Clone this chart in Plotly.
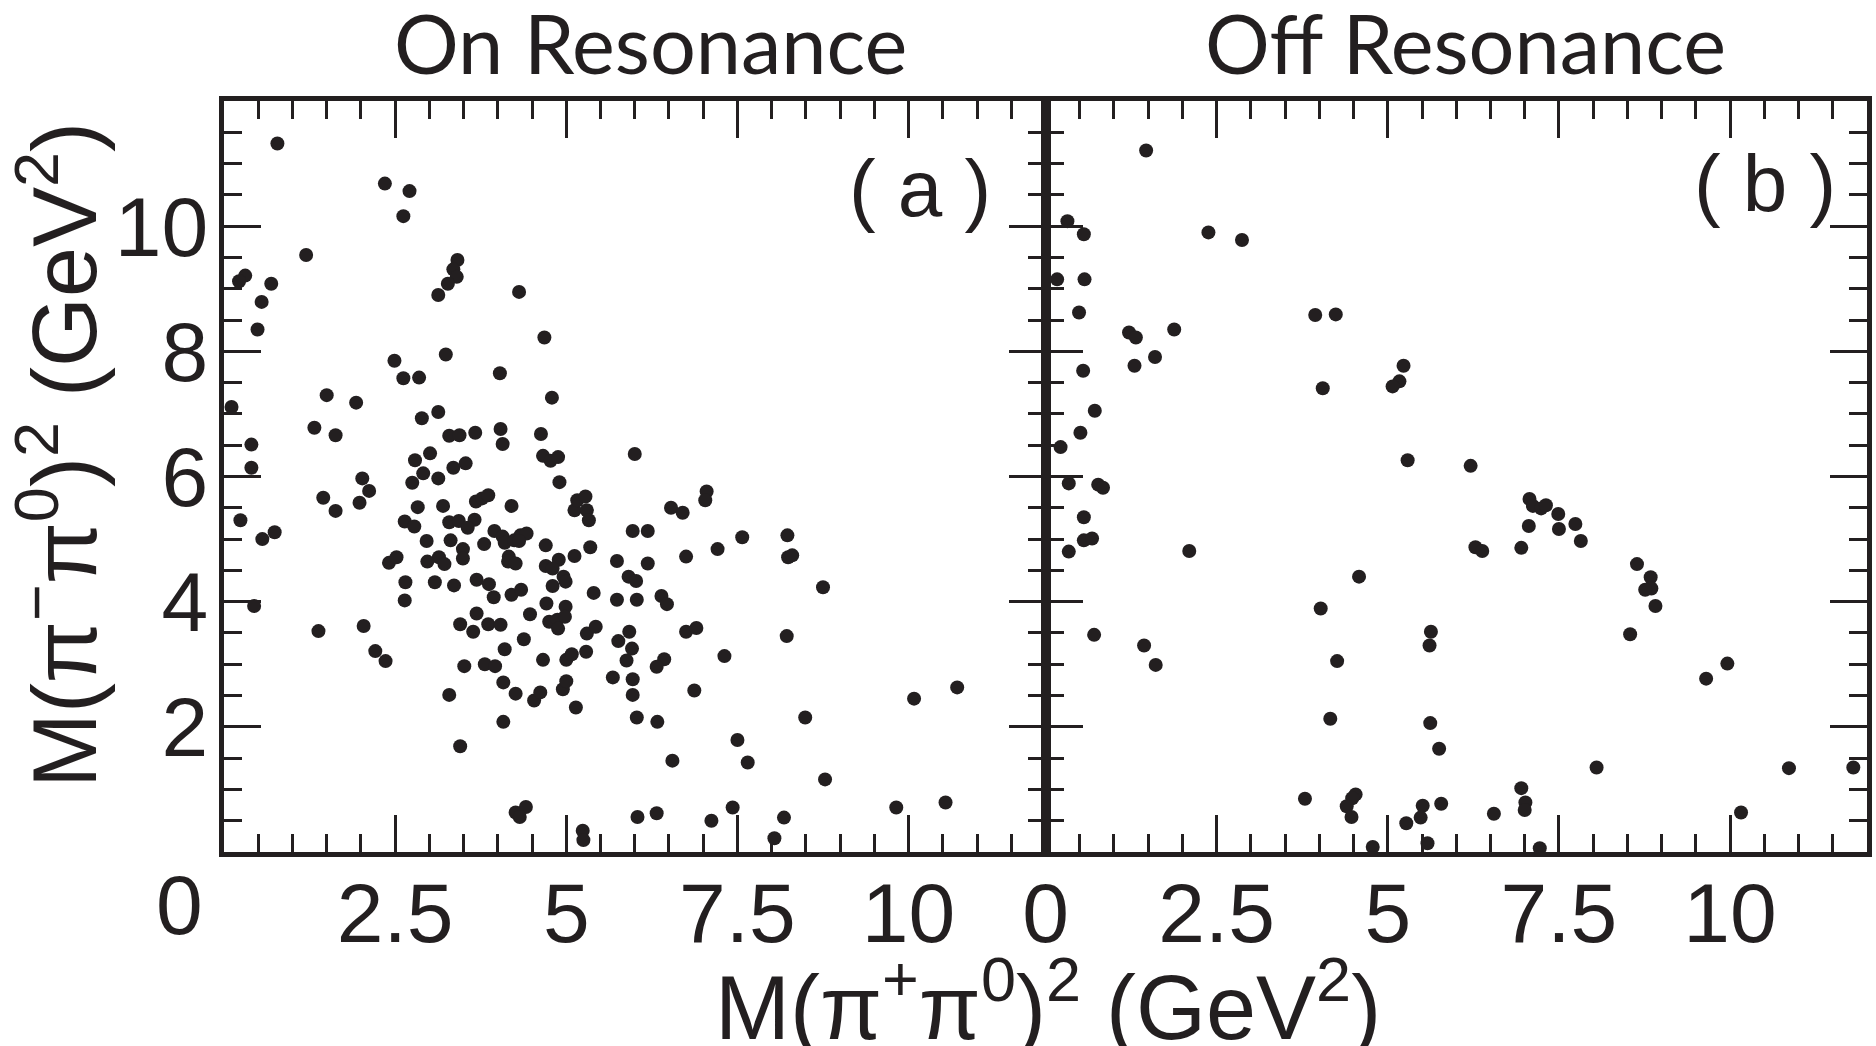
import plotly.graph_objects as go

INK = "#231f20"

# On-resonance events (panel a): (M(pi+pi0)^2, M(pi-pi0)^2)
on_points = [
    (0.78, 11.32), (2.35, 10.68), (2.71, 10.56), (2.62, 10.16), (1.20, 9.54), (0.31, 9.21), (0.22, 9.12),
    (0.69, 9.08), (0.55, 8.79), (0.49, 8.35), (3.41, 9.46), (3.35, 9.31), (3.40, 9.19), (3.27, 9.08),
    (3.13, 8.90), (4.31, 8.95), (4.68, 8.22), (3.24, 7.95), (2.49, 7.85), (2.62, 7.57), (2.85, 7.58),
    (4.03, 7.65), (4.79, 7.26), (0.11, 7.11), (1.50, 7.30), (1.93, 7.18), (1.32, 6.78), (1.63, 6.66),
    (2.89, 6.93), (3.13, 7.03), (3.29, 6.65), (3.44, 6.66), (3.67, 6.70), (4.04, 6.76), (4.07, 6.52),
    (4.63, 6.68), (4.66, 6.33), (4.77, 6.25), (4.88, 6.31), (0.40, 6.51), (0.40, 6.14), (3.01, 6.37),
    (2.79, 6.26), (3.35, 6.14), (3.53, 6.21), (2.91, 6.05), (6.00, 6.36),
    (2.02, 5.97), (2.12, 5.77), (1.98, 5.58), (1.45, 5.66), (1.63, 5.45), (0.24, 5.30), (0.56, 5.00),
    (0.74, 5.11), (3.13, 5.97), (2.75, 5.90), (2.83, 5.51), (3.20, 5.53), (2.64, 5.28), (2.78, 5.20),
    (2.96, 4.97), (3.29, 5.27), (3.43, 5.29), (3.66, 5.31), (3.56, 5.18), (3.31, 4.98), (3.49, 4.84),
    (3.49, 4.69), (3.14, 4.71), (3.22, 4.60), (2.97, 4.64), (2.41, 4.62), (2.52, 4.71), (2.65, 4.31),
    (2.64, 4.02), (3.08, 4.31), (3.36, 4.26), (3.68, 5.60), (3.77, 5.65), (3.86, 5.70), (4.20, 5.53),
    (3.80, 4.92), (3.95, 5.13), (4.07, 5.04), (4.10, 4.94), (4.24, 4.98), (4.33, 5.06), (4.42, 5.09),
    (4.31, 4.97), (4.16, 4.72), (4.15, 4.64), (4.26, 4.61), (4.70, 4.90), (4.89, 4.67), (4.70, 4.57),
    (4.80, 4.53), (5.12, 5.46), (5.16, 5.62), (5.28, 5.68), (5.30, 5.46), (5.33, 5.30), (4.90, 5.91),
    (5.35, 4.87), (5.12, 4.73), (4.96, 4.40), (4.99, 4.32), (4.80, 4.25), (3.69, 4.35), (3.87, 4.28),
    (3.94, 4.07), (4.20, 4.11), (4.34, 4.19), (4.71, 3.97), (4.99, 3.92), (5.40, 4.14), (5.74, 4.65),
    (5.74, 4.03), (3.69, 3.81), (3.45, 3.64), (3.64, 3.52), (3.86, 3.64), (4.04, 3.63), (4.47, 3.80),
    (4.75, 3.68), (4.87, 3.71), (4.98, 3.76), (4.88, 3.57), (5.30, 3.49), (5.43, 3.60), (4.38, 3.40),
    (4.10, 3.24), (5.29, 3.20), (5.76, 3.37), (5.68, 2.79), (4.66, 3.07), (5.00, 3.07), (5.08, 3.16),
    (3.81, 3.00), (3.96, 2.97), (3.51, 2.97), (4.08, 2.71), (4.26, 2.53), (4.53, 2.42), (4.62, 2.55),
    (4.95, 2.60), (5.00, 2.73), (5.14, 2.31), (3.29, 2.51), (4.08, 2.08), (3.45, 1.69), (1.38, 3.53),
    (0.44, 3.93), (2.04, 3.61), (2.21, 3.21), (2.36, 3.05), (4.26, 0.63), (4.41, 0.72), (4.32, 0.56),
    (5.24, 0.34), (5.25, 0.19),
    (7.05, 5.76), (7.03, 5.62), (6.53, 5.50), (6.70, 5.42), (5.97, 5.13), (6.19, 5.13), (7.57, 5.03),
    (8.23, 5.06), (7.21, 4.84), (6.75, 4.72), (8.24, 4.71), (8.30, 4.74), (6.19, 4.61), (5.91, 4.40),
    (6.02, 4.33), (8.75, 4.23), (6.03, 4.03), (6.39, 4.09), (6.47, 3.96), (5.92, 3.52), (5.96, 3.25),
    (5.88, 3.06), (6.75, 3.52), (6.90, 3.58), (8.22, 3.45), (7.31, 3.13), (6.43, 3.08), (6.32, 2.96),
    (5.97, 2.76), (5.97, 2.51), (6.87, 2.58), (10.08, 2.45), (10.71, 2.63), (6.03, 2.15), (6.33, 2.08),
    (8.49, 2.15), (7.50, 1.79), (7.65, 1.43), (6.55, 1.46), (8.78, 1.16), (6.04, 0.56), (6.32, 0.62),
    (7.12, 0.50), (7.43, 0.71), (8.18, 0.55), (8.04, 0.22), (9.82, 0.71), (10.54, 0.79),
]

# Off-resonance events (panel b)
off_points = [
    (1.47, 11.21), (0.32, 10.08), (0.56, 9.87), (2.38, 9.90), (2.87, 9.78), (0.17, 9.15), (0.57, 9.15),
    (0.49, 8.62), (3.94, 8.58), (4.24, 8.59), (1.22, 8.30), (1.32, 8.22), (1.88, 8.35), (1.60, 7.91),
    (1.30, 7.77), (0.55, 7.69), (4.05, 7.41), (5.23, 7.77), (5.17, 7.52), (5.07, 7.44), (0.72, 7.05),
    (0.51, 6.70), (0.22, 6.47), (5.29, 6.26), (6.21, 6.17), (0.34, 5.89), (0.77, 5.87), (0.84, 5.82),
    (0.56, 5.35), (0.56, 4.98), (0.68, 5.01), (0.34, 4.80), (2.10, 4.81), (4.58, 4.40), (4.02, 3.89),
    (0.71, 3.47), (5.63, 3.52), (5.61, 3.30), (1.44, 3.30), (1.61, 2.99), (4.26, 3.05), (4.16, 2.13),
    (5.62, 2.06), (5.75, 1.65), (3.79, 0.85), (4.53, 0.92), (4.48, 0.86), (4.40, 0.73), (4.47, 0.56),
    (4.78, 0.08), (5.27, 0.46), (5.51, 0.74), (5.48, 0.55), (5.58, 0.14), (5.78, 0.77), (7.07, 5.64),
    (7.12, 5.53), (7.24, 5.49), (7.31, 5.54), (7.49, 5.40), (7.74, 5.24), (7.06, 5.21), (7.50, 5.16),
    (7.82, 4.97), (6.28, 4.87), (6.38, 4.81), (6.95, 4.86), (8.64, 4.60), (8.84, 4.39), (8.85, 4.21),
    (8.76, 4.19), (8.91, 3.93), (8.54, 3.48), (9.96, 3.01), (9.65, 2.77), (8.05, 1.35), (10.86, 1.34),
    (11.80, 1.35), (6.95, 1.02), (7.01, 0.79), (7.00, 0.67), (6.55, 0.61), (10.16, 0.63), (7.22, 0.06),
]

on_x = [p[0] for p in on_points]
on_y = [p[1] for p in on_points]
off_x = [p[0] for p in off_points]
off_y = [p[1] for p in off_points]

x_ticks_a = [2.5, 5, 7.5, 10]
x_ticks_b = [0, 2.5, 5, 7.5, 10]
x_ticktext_a = ["2.5", "5", "7.5", "10"]
x_ticktext_b = ["0", "2.5", "5", "7.5", "10"]
y_ticks = [2, 4, 6, 8, 10]
y_ticktext = ["2", "4", "6", "8", "10"]
panel_titles = ["On Resonance", "Off Resonance"]
panel_tags = ["( a )", "( b )"]

TICKFONT = dict(family="Liberation Sans, Arial, sans-serif", size=84, color=INK)

fig = go.Figure()
fig.add_trace(go.Scatter(x=on_x, y=on_y, mode="markers", xaxis="x", yaxis="y",
                         marker=dict(size=14, color=INK), cliponaxis=False, showlegend=False))
fig.add_trace(go.Scatter(x=off_x, y=off_y, mode="markers", xaxis="x2", yaxis="y2",
                         marker=dict(size=14, color=INK), cliponaxis=False, showlegend=False))

common_axis = dict(
    range=[0, 12], showgrid=False, zeroline=False, showline=True, linewidth=5, linecolor=INK,
    mirror="allticks", ticks="inside", ticklen=37, tickwidth=3, tickcolor=INK,
    minor=dict(tickmode="linear", tick0=0, dtick=0.5, ticks="inside", ticklen=18,
               tickwidth=3, tickcolor=INK),
    tickfont=TICKFONT,
)

fig.update_layout(
    width=1876, height=1046,
    margin=dict(l=224, r=4, t=101, b=194),
    paper_bgcolor="white", plot_bgcolor="white",
    xaxis=dict(common_axis, domain=[0, 0.5], anchor="y", tickmode="array",
               tickvals=x_ticks_a, ticktext=x_ticktext_a, ticklabelstandoff=-16),
    xaxis2=dict(common_axis, domain=[0.5, 1.0], anchor="y2", tickmode="array",
                tickvals=x_ticks_b, ticktext=x_ticktext_b, ticklabelstandoff=-16),
    yaxis=dict(common_axis, domain=[0, 1], anchor="x", tickmode="array",
               tickvals=y_ticks, ticktext=y_ticktext, ticklabelstandoff=-6),
    yaxis2=dict(common_axis, domain=[0, 1], anchor="x2", tickmode="array",
                tickvals=y_ticks, ticktext=y_ticktext, showticklabels=False),
)

ann = []
TITLEFONT = dict(family="Lato, Open Sans, sans-serif", size=81, color=INK)
ann.append(dict(text=panel_titles[0], x=0.2597, y=1.078, xref="paper", yref="paper",
                xanchor="center", yanchor="middle", showarrow=False, font=TITLEFONT))
ann.append(dict(text=panel_titles[1], x=0.7555, y=1.078, xref="paper", yref="paper",
                xanchor="center", yanchor="middle", showarrow=False, font=TITLEFONT))
TAGFONT = dict(family="Liberation Sans, Arial, sans-serif", size=80, color=INK)
ann.append(dict(text=panel_tags[0], x=0.4235, y=0.884, xref="paper", yref="paper",
                xanchor="center", yanchor="middle", showarrow=False, font=TAGFONT))
ann.append(dict(text=panel_tags[1], x=0.938, y=0.8895, xref="paper", yref="paper",
                xanchor="center", yanchor="middle", showarrow=False, font=TAGFONT))
# offset "0" label of panel (a)
ann.append(dict(text="0", x=-0.0273, y=-0.0706, xref="paper", yref="paper",
                xanchor="center", yanchor="middle", showarrow=False, font=TICKFONT))
AXFONT = dict(family="Liberation Sans, Arial, sans-serif", size=90, color=INK)
ann.append(dict(text="M(π<sup>+</sup>π<sup>0</sup>)<sup>2</sup> (GeV<sup>2</sup>)",
                x=0.5018, y=-0.199, xref="paper", yref="paper",
                xanchor="center", yanchor="middle", showarrow=False, font=AXFONT))
ann.append(dict(text="M(π<sup>−</sup>π<sup>0</sup>)<sup>2</sup> (GeV<sup>2</sup>)",
                x=-0.101, y=0.5286, xref="paper", yref="paper", textangle=-90,
                xanchor="center", yanchor="middle", showarrow=False, font=AXFONT))
fig.update_layout(annotations=ann)

fig.write_html("out.html")
